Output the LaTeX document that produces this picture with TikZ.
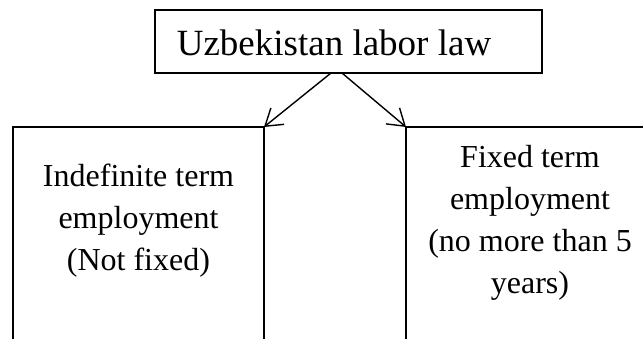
\documentclass[tikz,border=0pt]{standalone}
\usepackage{fontspec}
\setmainfont{Liberation Serif}
\usetikzlibrary{arrows.meta}
\begin{document}
\begin{tikzpicture}[x=1pt,y=-1pt,
  boxline/.style={draw=black,line width=1.4pt},
  bigtext/.style={font=\fontsize{37}{44}\selectfont,inner sep=0pt,anchor=base},
  subtext/.style={font=\fontsize{32}{41.7}\selectfont,inner sep=0pt,align=center,anchor=base},
  conn/.style={line width=1.4pt,-{Straight Barb[length=16pt,width=21pt,line width=1.4pt]}}]
\useasboundingbox (0,0) rectangle (643,338);
\clip (0,0) rectangle (643,338);
\fill[white] (0,0) rectangle (643,338);
\draw[boxline] (155,10) rectangle (542,73);
\coordinate (srcL) at (331,73);
\coordinate (srcR) at (342,73);
\draw[boxline] (13,127) rectangle (264,360);
\coordinate (leftcorner) at (264,127);
\draw[boxline] (406,360) -- (406,127) -- (660,127);
\coordinate (rightcorner) at (406,127);
\node[bigtext] (title) at (334,55) {Uzbekistan labor law};
\node[subtext] (indef) at (138.5,270) {Indefinite term\\employment\\(Not fixed)};
\node[subtext] (fixed) at (530,293) {Fixed term\\employment\\(no more than 5\\years)};
\draw[conn] (srcL) -- (leftcorner);
\draw[conn] (srcR) -- (rightcorner);
\end{tikzpicture}
\end{document}
